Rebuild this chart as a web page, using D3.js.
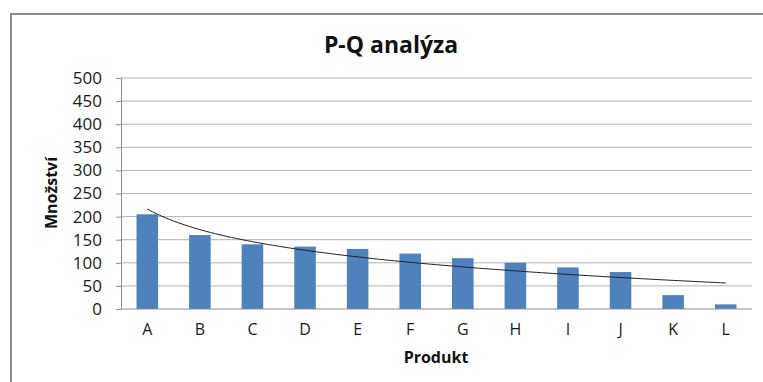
<!DOCTYPE html>
<html>
<head>
<meta charset="utf-8">
<script src="https://cdn.jsdelivr.net/npm/d3@7"></script>
<style>
  body { margin: 0; background: #fff; }
  text { font-family: "Open Sans", "DejaVu Sans", sans-serif; }
</style>
</head>
<body>
<div id="chart"></div>
<script>
const categories = ['A', 'B', 'C', 'D', 'E', 'F', 'G', 'H', 'I', 'J', 'K', 'L'];
const quantities = [205, 160, 140, 135, 130, 120, 110, 100, 90, 80, 30, 10];
const yTicks = [0, 50, 100, 150, 200, 250, 300, 350, 400, 450, 500];

const width = 763,
height = 382;
const margin = { top: 78, right: 11, bottom: 73, left: 121 };

const svg = d3.select('#chart')
  .append('svg')
  .attr('width', width)
  .attr('height', height);

// chart area frame (only left/top visible in the crop)
svg.append('rect')
  .attr('x', 11)
  .attr('y', 14)
  .attr('width', 800)
  .attr('height', 400)
  .attr('fill', 'none')
  .attr('stroke', '#8c8c8c')
  .attr('stroke-width', 2);

const x = d3.scaleBand()
  .domain(categories)
  .range([margin.left, width - margin.right])
  .paddingInner(0.59)
  .paddingOuter(0.295);

const y = d3.scaleLinear()
  .domain([0, 500])
  .range([height - margin.bottom, margin.top]);

// gridlines
svg.append('g')
  .selectAll('line')
  .data(yTicks.filter(d => d > 0))
  .enter()
  .append('line')
  .attr('x1', margin.left)
  .attr('x2', width - margin.right)
  .attr('y1', d => y(d))
  .attr('y2', d => y(d))
  .attr('stroke', '#b3b3b3')
  .attr('stroke-width', 1);

// y axis
const yAxis = svg.append('g')
  .attr('transform', `translate(${margin.left},0)`)
  .call(d3.axisLeft(y).tickValues(yTicks).tickSize(5).tickPadding(14));
yAxis.select('.domain').attr('stroke', '#8c8c8c');
yAxis.selectAll('.tick line').attr('stroke', '#8c8c8c');
yAxis.selectAll('.tick text')
  .attr('font-size', 17)
  .attr('fill', '#1a1a1a')
  .style('font-family', '"Open Sans", sans-serif');

// bars
svg.append('g')
  .selectAll('rect')
  .data(quantities)
  .enter()
  .append('rect')
  .attr('x', (d, i) => x(categories[i]))
  .attr('y', d => y(d))
  .attr('width', x.bandwidth())
  .attr('height', d => y(0) - y(d))
  .attr('fill', '#4f81bd');

// x axis
const xAxis = svg.append('g')
  .attr('transform', `translate(0,${y(0)})`)
  .call(d3.axisBottom(x).tickSize(0).tickPadding(15));
xAxis.select('.domain')
  .attr('stroke', '#8c8c8c')
  .attr('d', `M${margin.left},0H${width - margin.right}`);
xAxis.selectAll('.tick text')
  .attr('font-size', 16)
  .attr('fill', '#1a1a1a')
  .style('font-family', '"Open Sans", sans-serif');

// logarithmic trendline (least squares, y = a ln(n) + b)
const lnX = quantities.map((d, i) => Math.log(i + 1));
const mx = d3.mean(lnX), my = d3.mean(quantities);
const a = d3.sum(lnX, (v, i) => (v - mx) * (quantities[i] - my)) / d3.sum(lnX, v => (v - mx) ** 2);
const b = my - a * mx;
const trend = d3.range(1, categories.length + 0.001, 0.1).map(n => [n, a * Math.log(n) + b]);
const xPos = d3.scaleLinear()
  .domain([1, categories.length])
  .range([x(categories[0]) + x.bandwidth() / 2, x(categories[categories.length - 1]) + x.bandwidth() / 2]);

svg.append('path')
  .datum(trend)
  .attr('fill', 'none')
  .attr('stroke', '#222')
  .attr('stroke-width', 1)
  .attr('d', d3.line().x(d => xPos(d[0])).y(d => y(d[1])).curve(d3.curveMonotoneX));

// titles
svg.append('text')
  .attr('x', 391)
  .attr('y', 53)
  .attr('text-anchor', 'middle')
  .attr('font-size', 23)
  .attr('font-weight', 'bold')
  .attr('fill', '#111')
  .text('P-Q analýza');

svg.append('text')
  .attr('x', 436)
  .attr('y', 363)
  .attr('text-anchor', 'middle')
  .attr('font-size', 16)
  .attr('font-weight', 'bold')
  .attr('fill', '#111')
  .text('Produkt');

svg.append('text')
  .attr('transform', 'translate(57,193) rotate(-90)')
  .attr('text-anchor', 'middle')
  .attr('font-size', 16)
  .attr('font-weight', 'bold')
  .attr('fill', '#111')
  .text('Množství');
</script>
</body>
</html>
